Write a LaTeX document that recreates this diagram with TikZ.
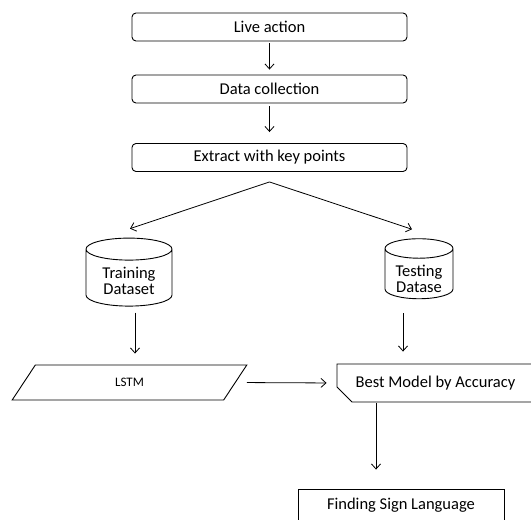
\documentclass[tikz,border=0pt]{standalone}
\usepackage{fontspec}
\setmainfont{Carlito}
\usetikzlibrary{arrows.meta,calc,shapes.geometric,shapes.misc}

\begin{document}
\begin{tikzpicture}[x=1pt,y=-1pt,>={Straight Barb[length=5pt,width=9pt]},
  font=\fontsize{16.5}{18}\selectfont,
  stepbox/.style={draw,line width=0.9pt,rounded corners=4pt,minimum width=275pt,minimum height=28pt},
  dbase/.style={draw,line width=0.9pt,cylinder,shape border rotate=90,aspect=0.4,inner sep=1pt},
  arr/.style={->,line width=0.8pt}]
  \clip (0,0) rectangle (531,520);
  \node[stepbox] (live) at (269.5,27) {Live action};
  \node[stepbox] (collect) at (269.5,89) {Data collection};
  \node[stepbox] (extract) at (269.5,157.5) {Extract with key points};
  \node[dbase,minimum width=86pt,minimum height=68pt] (train) at (129,279)
        {\raisebox{-8pt}[0pt][0pt]{\begin{tabular}{@{}c@{}}Training\\[-1.5pt]Dataset\end{tabular}}};
  \node[dbase,minimum width=68pt,minimum height=60pt] (test) at (419,275)
        {\raisebox{-10pt}[0pt][0pt]{\begin{tabular}{@{}c@{}}Testing\\[-1.5pt]Datase\end{tabular}}};
  \node[draw,line width=0.9pt,trapezium,trapezium left angle=74,trapezium right angle=106,
        trapezium stretches=true,minimum width=235pt,minimum height=35pt] (lstm) at (129.5,382.5)
        {\fontsize{13}{15}\selectfont LSTM};
  \node[draw,line width=0.9pt,chamfered rectangle,chamfered rectangle corners=south west,
        chamfered rectangle xsep=8pt,chamfered rectangle ysep=7pt,
        minimum width=197pt,minimum height=38pt] (best) at (435.5,383) {Best Model by Accuracy};
  \node[draw,line width=0.9pt,minimum width=206pt,minimum height=32pt] (fsl) at (401,505) {Finding Sign Language};

  \coordinate (split) at ($(extract.south)+(0,10)$);
  \draw[arr,shorten <=2pt,shorten >=5pt] (live) -- (collect);
  \draw[arr,shorten <=3pt,shorten >=11pt] (collect) -- (extract);
  \draw[arr] (split) -- ($(train.north)+(1,-9)$);
  \draw[arr] (split) -- ($(test.north)+(-7,-9)$);
  \draw[arr,shorten <=6pt,shorten >=11pt] ([xshift=6pt]train.south) -- ([xshift=6pt]train.south |- lstm.north);
  \draw[arr,shorten <=14pt,shorten >=12pt] ([xshift=-16pt]test.south) -- ([xshift=-16pt]test.south |- best.north);
  \draw[arr,shorten <=11pt,shorten >=10pt] (lstm.east) -- (best.west);
  \draw[arr,shorten <=1pt,shorten >=19pt] ([xshift=-59.5pt]best.south) -- ([xshift=-59.5pt]best.south |- fsl.north);
\end{tikzpicture}
\end{document}
